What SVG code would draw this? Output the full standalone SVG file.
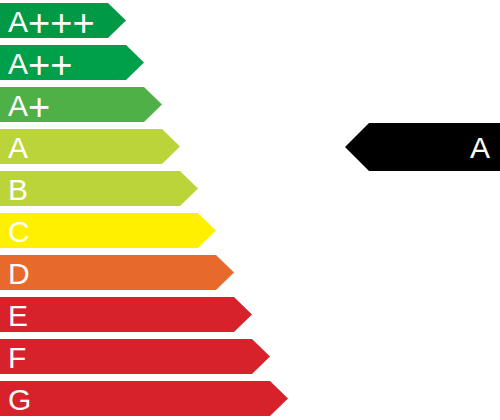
<svg xmlns="http://www.w3.org/2000/svg" width="500" height="420" viewBox="0 0 500 420">
<style>
.lbl{font-family:"Liberation Sans",Arial,sans-serif;font-size:30px;fill:#fff}
.pl{font-size:38px}
</style>
<rect width="500" height="420" fill="#fff"/>
<g id="bar-appp"><polygon points="0,3 108,3 126,20.5 108,38 0,38" fill="#009a46"/><text class="lbl" x="8" y="32">A<tspan class="pl" dy="4">+++</tspan></text></g>
<g id="bar-app"><polygon points="0,45 126,45 144,62.5 126,80 0,80" fill="#00a04a"/><text class="lbl" x="8" y="74">A<tspan class="pl" dy="4">++</tspan></text></g>
<g id="bar-ap"><polygon points="0,87 144,87 162,104.5 144,122 0,122" fill="#4fb048"/><text class="lbl" x="8" y="116">A<tspan class="pl" dy="4">+</tspan></text></g>
<g id="bar-a"><polygon points="0,129 162,129 180,146.5 162,164 0,164" fill="#bbd43a"/><text class="lbl" x="8" y="158">A</text></g>
<g id="bar-b"><polygon points="0,171 180,171 198,188.5 180,206 0,206" fill="#bbd43a"/><text class="lbl" x="8" y="200">B</text></g>
<g id="bar-c"><polygon points="0,213 198,213 216,230.5 198,248 0,248" fill="#fff000"/><text class="lbl" x="8" y="242">C</text></g>
<g id="bar-d"><polygon points="0,255 216,255 234,272.5 216,290 0,290" fill="#e8692c"/><text class="lbl" x="8" y="284">D</text></g>
<g id="bar-e"><polygon points="0,297 234,297 252,314.5 234,332 0,332" fill="#d7222b"/><text class="lbl" x="8" y="326">E</text></g>
<g id="bar-f"><polygon points="0,339 252,339 270,356.5 252,374 0,374" fill="#d7222b"/><text class="lbl" x="8" y="368">F</text></g>
<g id="bar-g"><polygon points="0,381 270,381 288,398.5 270,416 0,416" fill="#d7222b"/><text class="lbl" x="8" y="410">G</text></g>
<g id="rating"><polygon points="345,147 369,123 500,123 500,171 369,171" fill="#000"/><text class="lbl" x="470" y="158">A</text></g>
<g id="connectors"/>
</svg>
